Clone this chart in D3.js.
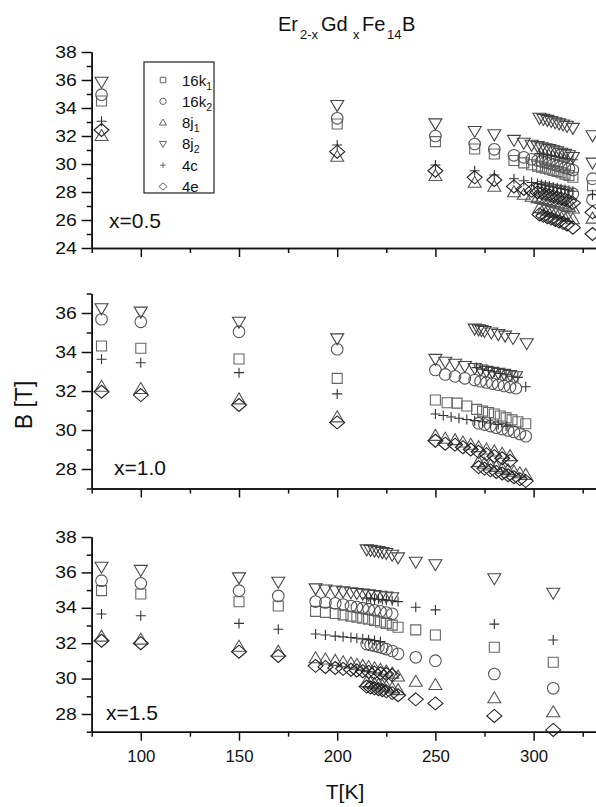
<!DOCTYPE html>
<html><head><meta charset="utf-8">
<script src="https://cdn.jsdelivr.net/npm/d3@7"></script>
<style>
html,body{margin:0;padding:0;background:#fff;}
svg{display:block;font-family:"Liberation Sans",Arial,sans-serif;}
</style></head><body>
<svg id="c" width="596" height="807"></svg>
<script>
// ---------- data ----------
const seriesNames = ["16k1","16k2","8j1","8j2","4c","4e"];
const panelLabels = ["x=0.5","x=1.0","x=1.5"];
const xMajorTicks = [100,150,200,250,300];
const xMinorTicks = [75,125,175,225,275,325];

// panel x=0.5
const x05_16k1 = [[80,34.5],[200,32.86],[250,31.6],[270,31.07],[280,30.71],
 [290,30.25],[295,30.08],[299,29.95],[302,29.85],[304,29.78],[306,29.7],[308,29.62],[310,29.54],[312,29.46],[314,29.38],[316,29.28],[318,29.18],[320,29.05],[330,28.45]];
const x05_16k2 = [[80,34.95],[200,33.26],[250,32.0],[270,31.43],[280,31.05],
 [290,30.62],[295,30.48],[299,30.34],[302,30.25],[304,30.19],[306,30.12],[308,30.05],[310,29.97],[312,29.9],[314,29.82],[316,29.74],[318,29.66],[320,29.57],
 [303,28.35],[305,28.3],[307,28.24],[309,28.19],[311,28.14],[313,28.08],[315,28.02],[317,27.96],[320,27.88],[330,28.95],[330,27.45]];
const x05_8j1 = [[80,32.0],[200,30.52],[250,29.14],[270,28.66],[280,28.38],
 [290,27.98],[295,27.8],[299,27.66],[302,27.56],[304,27.5],[306,27.43],[308,27.36],[310,27.28],[312,27.2],[314,27.12],[316,27.03],[318,26.94],[320,26.82],
 [303,26.85],[305,26.76],[307,26.67],[309,26.58],[311,26.5],[313,26.41],[315,26.32],[317,26.22],[320,26.05],[330,26.1]];
const x05_8j2 = [[80,35.88],[200,34.21],[250,32.9],[270,32.36],[280,32.12],
 [290,31.72],[295,31.52],[299,31.38],[302,31.28],[304,31.2],[306,31.13],[308,31.06],[310,30.98],[312,30.9],[314,30.8],[316,30.72],[318,30.62],[320,30.5],
 [303,33.3],[305,33.22],[307,33.15],[309,33.07],[311,32.98],[313,32.9],[315,32.82],[317,32.72],[320,32.58],[330,32.05],[330,30.1]];
const x05_4c = [[80,33.05],[200,31.36],[250,29.93],[270,29.52],[280,29.21],
 [290,28.95],[295,28.8],[299,28.68],[302,28.6],[304,28.54],[306,28.48],[308,28.42],[310,28.36],[312,28.3],[314,28.24],[316,28.18],[318,28.12],[320,28.05],
 [303,30.75],[305,30.7],[307,30.65],[309,30.6],[311,30.55],[313,30.5],[315,30.44],[317,30.38],[320,30.3],[330,27.8]];
const x05_4e = [[80,32.43],[200,30.88],[250,29.52],[270,29.05],[280,28.86],
 [290,28.4],[295,28.22],[299,28.08],[302,27.98],[304,27.92],[306,27.85],[308,27.78],[310,27.7],[312,27.62],[314,27.54],[316,27.45],[318,27.35],[320,27.22],
 [303,26.4],[305,26.3],[307,26.2],[309,26.1],[311,26.0],[313,25.9],[315,25.8],[317,25.68],[320,25.45],[330,26.55],[330,25.0]];

// panel x=1.0
const x10_16k1 = [[80,34.31],[100,34.19],[150,33.64],[200,32.65],
 [250,31.54],[256,31.4],[261,31.38],[266,31.23],[271,31.06],[274,30.97],[277,30.9],[280,30.82],[283,30.72],[286,30.62],[289,30.52],[292,30.42],[296,30.32]];
const x10_16k2 = [[80,35.68],[100,35.55],[150,35.04],[200,34.14],
 [250,33.08],[255,32.85],[260,32.75],[265,32.65],[270,32.56],[273,32.5],[276,32.44],[279,32.38],[282,32.32],[285,32.26],[288,32.2],[291,32.14],
 [272,30.35],[275,30.28],[278,30.2],[281,30.12],[284,30.05],[287,29.98],[290,29.9],[293,29.8],[296,29.68]];
const x10_8j1 = [[80,32.22],[100,32.1],[150,31.57],[200,30.65],
 [250,29.7],[255,29.55],[260,29.48],[264,29.36],[268,29.24],[272,29.12],[276,29.0],[280,28.9],[284,28.78],[288,28.66],
 [272,28.35],[275,28.27],[278,28.18],[281,28.1],[284,28.02],[287,27.94],[290,27.86],[293,27.78],[296,27.7]];
const x10_8j2 = [[80,36.24],[100,36.07],[150,35.55],[200,34.7],
 [250,33.65],[255,33.5],[260,33.4],[265,33.28],[270,33.18],[273,33.1],[276,33.03],[279,32.98],[282,32.93],[285,32.88],[288,32.82],[291,32.76],
 [270,35.2],[272,35.16],[273.5,35.12],[275,35.08],[278.5,35.0],[282,34.92],[285.5,34.84],[289.5,34.72],[296.5,34.45]];
const x10_4c = [[80,33.63],[100,33.45],[150,32.94],[200,31.85],
 [250,30.82],[254,30.74],[258,30.67],[262,30.6],[266,30.54],[270,30.48],[274,30.42],[278,30.36],[282,30.28],[286,30.2],
 [271,33.2],[274,33.12],[277,33.05],[280,32.98],[283,32.9],[286,32.83],[289,32.76],[292,32.7],[296,32.22]];
const x10_4e = [[80,31.96],[100,31.79],[150,31.28],[200,30.39],
 [250,29.45],[255,29.3],[260,29.25],[264,29.12],[268,29.0],[272,28.88],[276,28.76],[280,28.66],[284,28.55],[288,28.42],
 [272,28.1],[275,28.02],[278,27.93],[281,27.85],[284,27.77],[287,27.68],[290,27.58],[293,27.48],[296,27.38]];

// panel x=1.5
const x15_16k1 = [[80,34.97],[100,34.78],[150,34.34],[170,34.1],
 [189,33.8],[194,33.74],[199,33.68],[203,33.6],[207,33.53],[210,33.47],[213,33.41],[216,33.35],[219,33.28],[222,33.2],[225,33.12],[228,33.02],[231,32.9],
 [240,32.75],[250,32.46],[280,31.77],[310,30.92]];
const x15_16k2 = [[80,35.53],[100,35.38],[150,34.97],[170,34.67],
 [189,34.35],[194,34.3],[199,34.25],[203,34.18],[207,34.1],[210,34.04],[213,33.98],[216,33.92],[219,33.86],[222,33.8],[225,33.73],[228,33.66],
 [215,31.95],[217,31.9],[219,31.85],[221,31.8],[223,31.74],[225,31.67],[228,31.56],[231,31.4],
 [240,31.2],[250,31.01],[280,30.26],[310,29.45]];
const x15_8j1 = [[80,32.37],[100,32.2],[150,31.8],[170,31.52],
 [189,31.15],[194,31.08],[199,31.0],[203,30.92],[207,30.85],[210,30.78],[213,30.72],[216,30.65],[219,30.58],[222,30.5],[225,30.4],[228,30.28],[231,30.12],
 [215,29.8],[217,29.75],[219,29.7],[221,29.65],[223,29.6],[225,29.54],[228,29.45],[231,29.35],
 [240,29.82],[250,29.64],[280,28.89],[310,28.1]];
const x15_8j2 = [[80,36.32],[100,36.14],[150,35.72],[170,35.47],
 [189,35.1],[194,35.03],[199,34.98],[203,34.93],[207,34.88],[210,34.84],[213,34.8],[216,34.76],[219,34.72],[222,34.68],[225,34.64],[228,34.6],
 [215,37.3],[217,37.27],[219,37.23],[221,37.2],[223,37.15],[225,37.1],[228,37.0],[231,36.85],
 [240,36.6],[250,36.46],[280,35.67],[310,34.85]];
const x15_4c = [[80,33.65],[100,33.55],[150,33.12],[170,32.79],
 [189,32.52],[194,32.46],[199,32.4],[203,32.36],[207,32.32],[210,32.28],[213,32.24],[216,32.2],[219,32.15],[222,32.1],
 [215,34.55],[217,34.53],[219,34.5],[221,34.48],[223,34.46],[225,34.43],[228,34.4],[231,34.35],
 [240,34.03],[250,33.88],[280,33.08],[310,32.18]];
const x15_4e = [[80,32.14],[100,32.0],[150,31.52],[170,31.28],
 [189,30.72],[194,30.66],[199,30.6],[203,30.55],[207,30.5],[210,30.46],[213,30.42],[216,30.38],[219,30.34],[222,30.3],[225,30.26],[228,30.2],
 [215,29.55],[217,29.5],[219,29.45],[221,29.4],[223,29.34],[225,29.28],[228,29.18],[231,29.06],
 [240,28.83],[250,28.6],[280,27.89],[310,27.1]];

const yDomains = [[24,38],[27,37],[27,38]];
const yMajorTicks = [[24,26,28,30,32,34,36,38],[28,30,32,34,36],[28,30,32,34,36,38]];
const yMinorTicks = [[25,27,29,31,33,35,37],[27,29,31,33,35,37],[27,29,31,33,35,37]];

// ---------- drawing ----------
const svg = d3.select("#c");
const x = d3.scaleLinear().domain([75,350]).range([91.7, 91.7 + 275*1.964]);
const yRanges = [[248,52],[488.5,293.5],[731.7,537]];
const panelData = [
  [x05_16k1,x05_16k2,x05_8j1,x05_8j2,x05_4c,x05_4e],
  [x10_16k1,x10_16k2,x10_8j1,x10_8j2,x10_4c,x10_4e],
  [x15_16k1,x15_16k2,x15_8j1,x15_8j2,x15_4c,x15_4e]
];
const shapes = {
  "16k1": s => `M${-5*s},${-5*s}h${10*s}v${10*s}h${-10*s}Z`,
  "16k2": s => `M${5.8*s},0A${5.8*s},${5.8*s},0,1,1,${-5.8*s},0A${5.8*s},${5.8*s},0,1,1,${5.8*s},0Z`,
  "8j1": s => `M0,${-6.5*s}L${6.5*s},${4.5*s}L${-6.5*s},${4.5*s}Z`,
  "8j2": s => `M${-6.5*s},${-4.5*s}L${6.5*s},${-4.5*s}L0,${6.5*s}Z`,
  "4c": s => `M${-5*s},0H${5*s}M0,${-5*s}V${5*s}`,
  "4e": s => `M0,${-6.5*s}L${7.5*s},0L0,${6.5*s}L${-7.5*s},0Z`
};
const colors = {"16k1":"#666","16k2":"#555","8j1":"#555","8j2":"#444","4c":"#333","4e":"#222"};

const labelPos = [[109,228],[114,475],[106,720]];

panelData.forEach((series, pi) => {
  const y = d3.scaleLinear().domain(yDomains[pi]).range(yRanges[pi]);
  const g = svg.append("g");
  // x axis
  const xa = g.append("g").attr("transform",`translate(0,${yRanges[pi][0]})`);
  xa.call(d3.axisBottom(x).tickValues(xMajorTicks).tickSize(9).tickSizeOuter(0).tickPadding(10)
    .tickFormat(pi===2 ? d3.format("d") : ()=>""));
  if (pi===2) xa.selectAll(".tick text").attr("font-size",16.5).attr("textLength",28).attr("lengthAdjust","spacingAndGlyphs");
  const xm = g.append("g").attr("transform",`translate(0,${yRanges[pi][0]})`);
  xm.call(d3.axisBottom(x).tickValues(xMinorTicks).tickSize(5).tickSizeOuter(0).tickFormat(()=>""));
  // y axis
  const ya = g.append("g").attr("transform",`translate(${x.range()[0]},0)`);
  ya.call(d3.axisLeft(y).tickValues(yMajorTicks[pi]).tickSize(10).tickSizeOuter(0).tickPadding(5).tickFormat(d3.format("d")));
  ya.selectAll(".tick text").attr("font-size",16).attr("textLength",21.5).attr("lengthAdjust","spacingAndGlyphs");
  const ym = g.append("g").attr("transform",`translate(${x.range()[0]},0)`);
  ym.call(d3.axisLeft(y).tickValues(yMinorTicks[pi]).tickSize(5).tickSizeOuter(0).tickFormat(()=>""));
  g.selectAll(".domain").attr("stroke","#111").attr("stroke-width",1.6);
  g.selectAll(".tick line").attr("stroke","#111").attr("stroke-width",1.5);
  g.selectAll(".tick text").attr("fill","#111").attr("font-family","Liberation Sans, Arial, sans-serif");

  // points
  series.forEach((pts, si) => {
    const name = seriesNames[si];
    g.append("g").selectAll("path").data(pts).join("path")
      .attr("transform", d => `translate(${x(d[0])},${y(d[1])})`)
      .attr("d", shapes[name](1))
      .attr("fill","none")
      .attr("stroke", colors[name])
      .attr("stroke-width",1.1);
  });

  // panel label
  g.append("text").attr("x",labelPos[pi][0]).attr("y",labelPos[pi][1])
    .attr("font-size",21).attr("fill","#111").text(panelLabels[pi]);
});

// legend
const lg = svg.append("g");
lg.append("rect").attr("x",144).attr("y",62).attr("width",70).attr("height",131)
  .attr("fill","#fff").attr("stroke","#222").attr("stroke-width",1.2);
const legMain = ["16k","16k","8j","8j","4c","4e"];
const legSub = ["1","2","1","2","",""];
seriesNames.forEach((name,i) => {
  const cy = 80 + i*21.3;
  lg.append("path").attr("transform",`translate(163,${cy})`).attr("d",shapes[name](0.55))
    .attr("fill","none").attr("stroke","#666").attr("stroke-width",1);
  const t = lg.append("text").attr("x",182).attr("y",cy+5.5).attr("font-size",15).attr("fill","#111");
  t.append("tspan").text(legMain[i]);
  if (legSub[i]) t.append("tspan").attr("font-size",10.5).attr("dy",4).text(legSub[i]);
});

// title
const titleParts = [["Er",278,0],["2-x",300,1],["Gd",321,0],["x",353,1],["Fe",362,0],["14",387,1],["B",402,0]];
const title = svg.append("g");
titleParts.forEach(p => {
  title.append("text").attr("x",p[1]).attr("y",p[2] ? 39 : 30.5)
    .attr("font-size",p[2] ? 13 : 20).attr("fill","#111").text(p[0]);
});

// axis titles
svg.append("text").attr("transform","translate(32,405) rotate(-90)").attr("text-anchor","middle")
  .attr("font-size",23).attr("fill","#111").text("B [T]");
svg.append("text").attr("x",345).attr("y",799).attr("text-anchor","middle")
  .attr("font-size",21).attr("fill","#111").text("T[K]");
</script></body></html>
